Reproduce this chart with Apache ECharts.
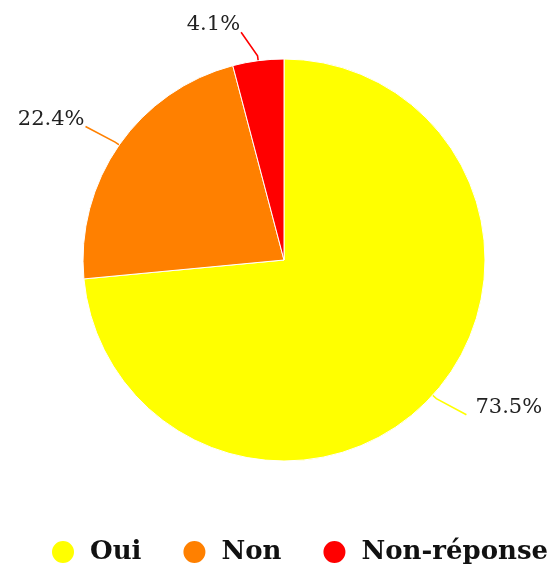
<!DOCTYPE html>
<html><head><meta charset="utf-8">
<script src="https://cdn.jsdelivr.net/npm/echarts@6/dist/echarts.min.js"></script>
<style>html,body{margin:0;padding:0;background:#fff}#c{width:556px;height:567px}</style>
</head><body><div id="c"></div>
<script>
const categories = ['Oui', 'Non', 'Non-réponse'];
const values = [73.5, 22.4, 4.1];
const colors = ['#ffff00', '#ff8000', '#ff0000'];

const chart = echarts.init(document.getElementById('c'), null, {renderer: 'canvas'});
const CX = 284;
chart.setOption({
  animation: false,
  color: colors,
  legend: {
    top: 539,
    left: 50,
    padding: 0,
    icon: 'circle',
    itemWidth: 24,
    itemHeight: 24,
    itemGap: 40,
    textStyle: {fontFamily: 'DejaVu Serif', fontWeight: 'bold', fontSize: 26, color: '#111', padding: [0, 0, 0, 10]},
    data: categories
  },
  series: [{
    type: 'pie',
    center: [CX, 260],
    radius: 201,
    startAngle: 90,
    clockwise: true,
    itemStyle: {borderColor: '#fff', borderWidth: 1},
    label: {
      formatter: p => p.value.toFixed(1) + '%',
      fontFamily: 'DejaVu Serif',
      fontSize: 21,
      color: '#222',
      distanceToLabelLine: 3
    },
    labelLine: {length: 24, length2: 10, lineStyle: {width: 1.6}},
    labelLayout: p => {
      const r = p.labelRect;
      const right = r.x > CX;
      const dx = right ? 12 : -2;
      const dy = right ? -4 : -12;
      const nx = r.x + dx, ny = r.y + dy;
      const pts = p.labelLinePoints;
      if (!pts) return {dx, dy};
      const a = pts[0], b = pts[1];
      const vx = b[0] - a[0], vy = b[1] - a[1];
      const len = Math.hypot(vx, vy) || 1;
      const p1 = [a[0] + vx / len * 5, a[1] + vy / len * 5];
      const end = right ? [nx - 9, ny + r.height * 0.85] : [nx + r.width + 1, ny + r.height * 0.85];
      return {dx, dy, labelLinePoints: [a, p1, end]};
    },
    data: categories.map((c, i) => ({name: c, value: values[i]}))
  }]
});
</script></body></html>
